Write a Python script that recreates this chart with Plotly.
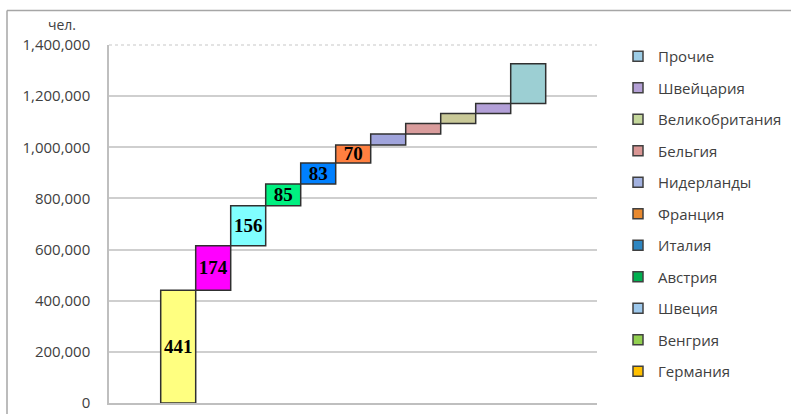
import plotly.graph_objects as go

countries = ["Германия", "Венгрия", "Швеция", "Австрия", "Италия", "Франция",
             "Нидерланды", "Бельгия", "Великобритания", "Швейцария", "Прочие"]
values = [441000, 174000, 156000, 85000, 83000, 70000, 43000, 41000, 39000, 39000, 156000]
labels = ["441", "174", "156", "85", "83", "70", "", "", "", "", ""]
bar_colors = ["#FFFF80", "#FF00FF", "#80FFFF", "#00F080", "#0080FF", "#FF8040",
              "#A0A4DC", "#D99C9C", "#C9C998", "#B3A0D8", "#9CCFD3"]
legend_colors = ["#FFC000", "#92D050", "#9DC8EC", "#00B050", "#2E86C1", "#E8892E",
                 "#A3B2E0", "#D99694", "#C4D79B", "#B4A0D6", "#9DCDE6"]
y_ticks = [0, 200000, 400000, 600000, 800000, 1000000, 1200000, 1400000]
unit_label = "чел."

W, H = 791, 414
L, R, T, B = 109, 597, 45, 403

fig = go.Figure()
base = 0
for i, (c, v) in enumerate(zip(countries, values)):
    fig.add_trace(go.Bar(
        x=[i], y=[v], base=[base], width=1.0,
        marker=dict(color=bar_colors[i], line=dict(color="#303030", width=1.5)),
        text=[labels[i]], textposition="inside", insidetextanchor="middle",
        textangle=0, constraintext="none",
        textfont=dict(family="Liberation Serif", size=19, color="black", weight="bold"),
        showlegend=False, hoverinfo="skip", cliponaxis=False,
    ))
    base += v

# legend entries listed top-to-bottom (reverse of stacking order)
for i in reversed(range(len(countries))):
    fig.add_trace(go.Scatter(
        x=[None], y=[None], mode="markers", name=countries[i], legendgroup=countries[i],
        marker=dict(symbol="square", size=10, color=legend_colors[i],
                    line=dict(color="#404040", width=1.5)),
    ))

pw = R - L
ph = B - T
unit_w = 35.0
x0 = -0.5 - (160.7 - L) / unit_w
x1 = x0 + pw / unit_w

fig.update_layout(
    width=W, height=H,
    margin=dict(l=L, r=W - R, t=T, b=H - B, pad=0, autoexpand=False),
    paper_bgcolor="white", plot_bgcolor="white",
    barmode="overlay",
    font=dict(family="Open Sans", size=15, color="#404040"),
    xaxis=dict(range=[x0, x1], showticklabels=False, showgrid=False, zeroline=False,
               showline=True, linecolor="#BFBFBF", linewidth=1.5, ticks=""),
    yaxis=dict(range=[0, 1400000], tickvals=y_ticks, tickformat=",",
               showgrid=True, gridcolor="#CFCFCF", gridwidth=1.5, zeroline=False,
               showline=True, linecolor="#BFBFBF", linewidth=1.5, ticks="",
               ticklabelstandoff=14,
               tickfont=dict(family="Open Sans", size=15, color="#404040")),
    legend=dict(x=(618 - L) / pw, xanchor="left", y=1 + (T - 40) / ph, yanchor="top",
                traceorder="grouped", tracegroupgap=9, maxheight=400,
                font=dict(family="Open Sans", size=15, color="#404040"),
                bgcolor="rgba(0,0,0,0)", borderwidth=0, itemwidth=30),
    showlegend=True,
    annotations=[dict(text=unit_label, xref="paper", yref="paper",
                      x=(62 - L) / pw, y=(B - 25) / ph, xanchor="center", yanchor="middle",
                      showarrow=False, font=dict(family="Open Sans", size=14, color="#404040"))],
    shapes=[
        dict(type="line", xref="paper", yref="paper", x0=(7 - L) / pw, x1=(W + 5 - L) / pw,
             y0=(B - 10.5) / ph, y1=(B - 10.5) / ph, line=dict(color="#A6A6A6", width=1.5)),
        dict(type="line", xref="paper", yref="paper", x0=(7 - L) / pw, x1=(7 - L) / pw,
             y0=(B - 10.5) / ph, y1=(B - H - 5) / ph, line=dict(color="#A6A6A6", width=1.5)),
        dict(type="line", xref="paper", yref="paper", x0=0, x1=1, y0=1, y1=1,
             line=dict(color="#DADADA", width=1.5, dash="dot")),
    ],
)

fig.write_html("out.html")
